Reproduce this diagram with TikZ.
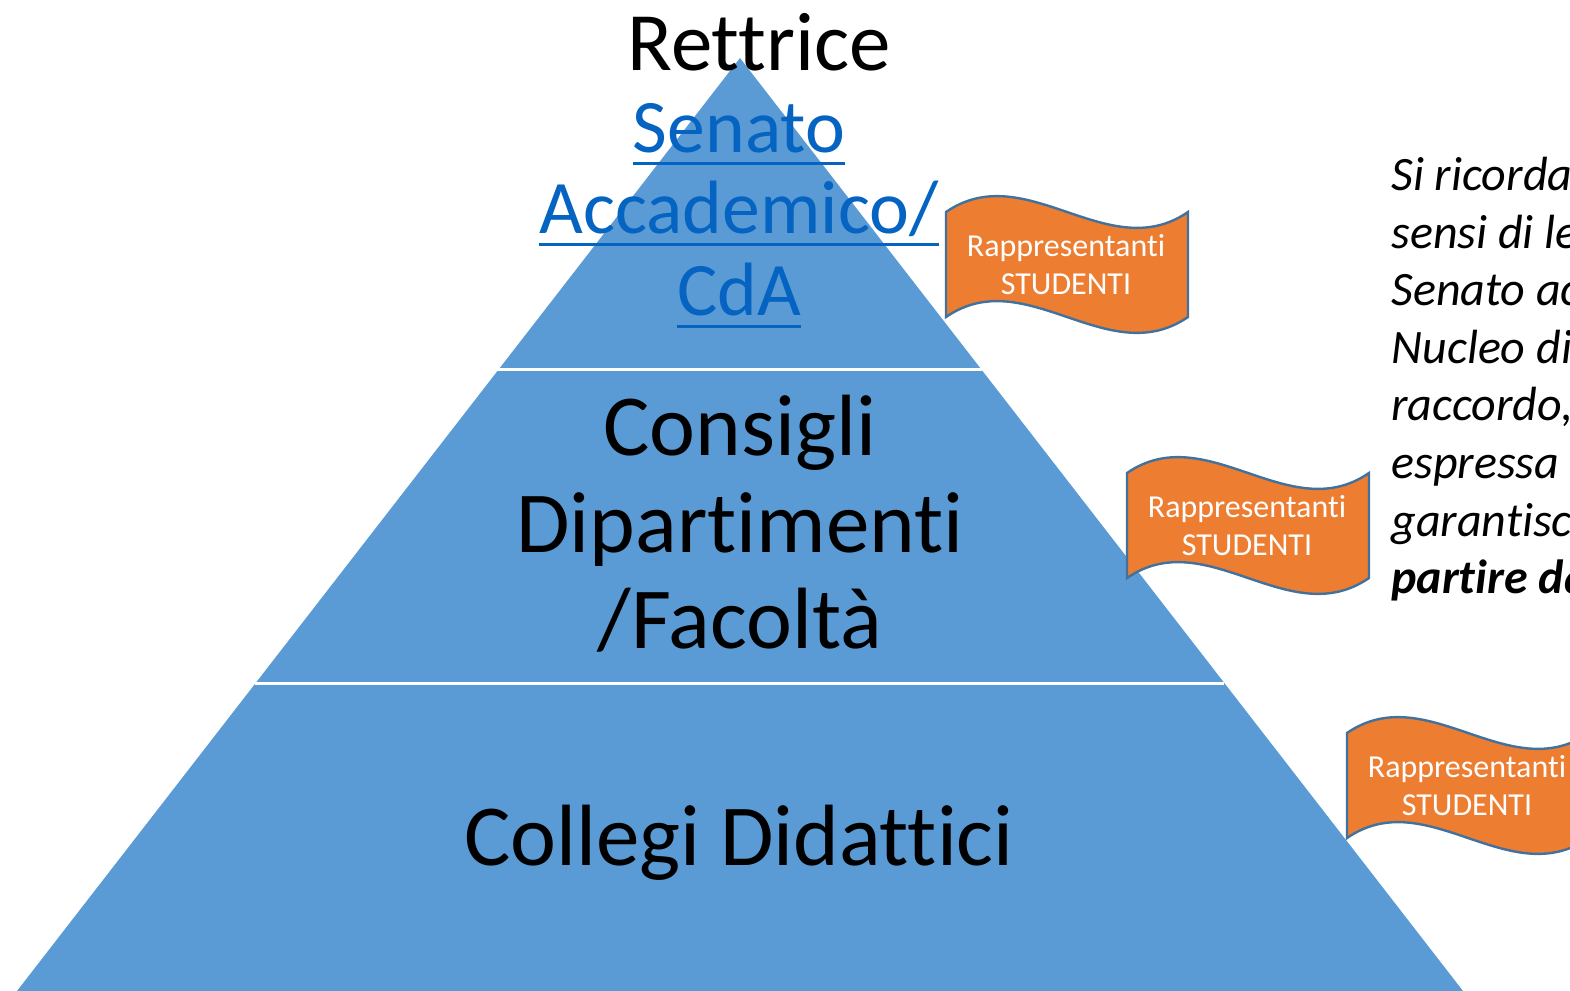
\documentclass[tikz,border=0pt]{standalone}
\usepackage{fontspec}
\setmainfont[Ligatures=NoCommon]{Carlito}
\usepackage{color}
\definecolor{mypyrblue}{RGB}{91,155,213}
\definecolor{myorange}{RGB}{237,125,49}
\definecolor{myedgeblue}{RGB}{65,113,156}
\definecolor{mylinkblue}{RGB}{5,99,193}
\usetikzlibrary{positioning}
\tikzstyle{tier}=[anchor=base,inner sep=0pt,font=\fontsize{43.5}{48}\selectfont]
\tikzstyle{senato}=[anchor=base,inner sep=0pt,text=mylinkblue,font=\fontsize{37.8}{42}\selectfont]
\tikzstyle{uline}=[draw=mylinkblue,line width=1.5pt]
\tikzstyle{flagshape}=[fill=myorange,draw=myedgeblue,line width=1.2pt]
\tikzstyle{flagtext}=[align=center,text=white,inner sep=0pt,font=\fontsize{16}{19}\selectfont]
\tikzstyle{noteline}=[anchor=base west,inner sep=0pt,font=\fontsize{24}{29}\selectfont\itshape]
% wave-shaped flag: #1 name, #2 left x, #3 top y
\newcommand{\repflag}[3]{
  \draw[flagshape] (#2,#3) .. controls +(80,-55) and +(-80,55) .. ++(242,0)
    -- ++(0,105) .. controls +(-80,55) and +(80,-55) .. ++(-242,0) -- cycle;
  \node[flagtext] (#1) at (#2+120,#3+53) {Rappresentanti\\STUDENTI};
}
% underline under a named text node
\newcommand{\ulnode}[1]{
  \draw[uline] ([yshift=-5.5pt]#1.base west) -- ([yshift=-5.5pt]#1.base east);
}

\begin{document}
\begin{tikzpicture}[x=0.5pt,y=-0.5pt]
\useasboundingbox (0,0) rectangle (1570,991);
\clip (0,0) rectangle (1570,991);

% pyramid
\coordinate (apex) at (740,58);
\coordinate (baseL) at (17,991);
\coordinate (baseR) at (1463,991);
\fill[mypyrblue] (apex) -- (baseL) -- (baseR) -- cycle;
\draw[white,line width=1.5pt] (495,369) -- (982,369);
\draw[white,line width=1.5pt] (255,683) -- (1224,683);

% levels
\node[tier,font=\fontsize{41.5}{46}\selectfont] (rettrice) at (759,70) {Rettrice};
\node[senato] (sen1) at (739,152) {Senato};
\node[senato] (sen2) at (739,233) {Accademico/};
\node[senato] (sen3) at (739,315) {CdA};
\ulnode{sen1}
\ulnode{sen2}
\ulnode{sen3}

\node[tier] (cons1) at (740,455) {Consigli};
\node[tier] (cons2) at (740,552) {Dipartimenti};
\node[tier] (cons3) at (740,648) {/Facolt\`a};

\node[tier] (collegi) at (739,865) {Collegi Didattici};

% student flags
\repflag{flagA}{946}{212}
\repflag{flagB}{1127}{473}
\repflag{flagC}{1347}{733}

% side note (cut by the frame)
\node[noteline] (n1) at (1391,190) {Si ricorda};
\node[noteline] (n2) at (1391,248) {sensi di le};
\node[noteline] (n3) at (1391,305) {Senato ac};
\node[noteline] (n4) at (1391,363) {Nucleo di};
\node[noteline] (n5) at (1391,420) {raccordo,};
\node[noteline] (n6) at (1391,478) {espressa};
\node[noteline] (n7) at (1391,536) {garantisc};
\node[noteline,font=\fontsize{24}{29}\selectfont\itshape\bfseries] (n8) at (1391,593) {partire da};
\end{tikzpicture}
\end{document}
